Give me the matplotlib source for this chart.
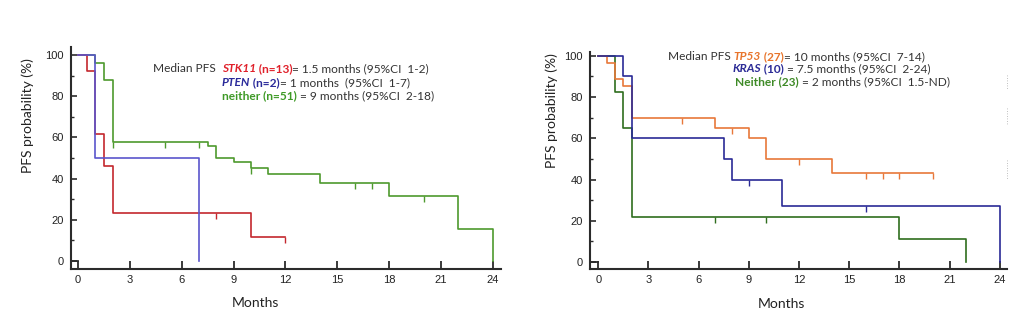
import matplotlib
matplotlib.use("Agg")
import matplotlib.pyplot as plt
from matplotlib.ticker import MultipleLocator

# ---------------- data ----------------
# Left panel
stk11_t = [0, 0.5, 1, 1.5, 2, 10, 12]
stk11_s = [100, 92.3, 61.5, 46.2, 23.1, 11.5, 11.5]
stk11_cens_t = [8, 12]
stk11_cens_s = [23.1, 11.5]

pten_t = [0, 1, 7]
pten_s = [100, 50, 0]

neither_t = [0, 1, 1.5, 2, 7.5, 8, 9, 10, 11, 14, 18, 22, 24]
neither_s = [100, 96, 88, 58, 56, 50, 48, 45, 42, 38, 31.5, 15.5, 0]
neither_cens_t = [2, 5, 7, 10, 16, 17, 20]
neither_cens_s = [58, 58, 58, 45, 38, 38, 31.5]

# Right panel
tp53_t = [0, 0.5, 1, 1.5, 2, 7, 9, 10, 14, 20]
tp53_s = [100, 96.3, 88.9, 85.2, 70, 65, 60, 50, 43, 43]
tp53_cens_t = [5, 8, 12, 16, 17, 18, 20]
tp53_cens_s = [70, 65, 50, 43, 43, 43, 43]

kras_t = [0, 1.5, 2, 7.5, 8, 11, 24]
kras_s = [100, 90, 60, 50, 40, 27, 0]
kras_cens_t = [9, 16]
kras_cens_s = [40, 27]

neither2_t = [0, 1, 1.5, 2, 18, 22]
neither2_s = [100, 82.6, 65.2, 21.7, 11, 0]
neither2_cens_t = [7, 10]
neither2_cens_s = [21.7, 21.7]

x_ticks = [0, 3, 6, 9, 12, 15, 18, 21, 24]
y_ticks = [0, 20, 40, 60, 80, 100]

# ---------------- style ----------------
TXT = ["Lato", "DejaVu Sans"]
TICKF = ["Liberation Sans", "DejaVu Sans"]
AX = "#2b2b2b"

fig = plt.figure(figsize=(10.27, 3.22), dpi=100)
W, H = 1027, 322


def px_axes(x0, x1, ytop, ybot):
    return fig.add_axes([x0 / W, 1 - ybot / H, (x1 - x0) / W, (ybot - ytop) / H])


def style(ax, xlim, ylim):
    ax.set_xlim(*xlim)
    ax.set_ylim(*ylim)
    for s in ["top", "right"]:
        ax.spines[s].set_visible(False)
    for s in ["left", "bottom"]:
        ax.spines[s].set_linewidth(1.5)
        ax.spines[s].set_color(AX)
    ax.set_xticks(x_ticks)
    ax.set_yticks(y_ticks)
    ax.yaxis.set_minor_locator(MultipleLocator(10))
    ax.tick_params(axis="x", direction="in", length=6, width=1.3, color=AX, pad=4,
                   labelsize=8)
    ax.tick_params(axis="y", which="major", direction="in", length=4, width=1.2, color=AX,
                   pad=5, labelsize=8)
    ax.tick_params(axis="y", which="minor", direction="in", length=2.5, width=1.0, color=AX)
    for lab in ax.get_xticklabels() + ax.get_yticklabels():
        lab.set_family(TICKF)
        lab.set_color("#222222")
    # small box at origin
    ax.plot([xlim[0], 0], [0, 0], color=AX, lw=1.3, clip_on=False)
    ax.set_ylabel("PFS probability (%)", family=TXT, fontsize=10, color="#222222")
    ax.set_xlabel("Months", family=TXT, fontsize=10, color="#222222")


def km(ax, t, s, ct, cs, color):
    ax.step(t, s, where="post", color=color, lw=1.2, clip_on=False)
    ax.plot(ct, cs, ls="none", marker=3, ms=4, mew=1.0, color=color, clip_on=False)


r = fig.canvas.get_renderer()
fs = 8.6


def line(parts, x, y):
    """Draw consecutive text pieces starting at pixel x."""
    for txt, col, style_, weight in parts:
        t = fig.text(x / W, 1 - y / H, txt, family=TXT, fontsize=fs, color=col,
                     style=style_, weight=weight, va="center")
        bb = t.get_window_extent(renderer=r)
        x += bb.width


# ---------------- left panel ----------------
axL = px_axes(70.7, 500.7, 46.7, 269.3)
style(axL, (-0.43, 24.46), (-4.0, 104))
km(axL, neither_t, neither_s, neither_cens_t, neither_cens_s, "#4e9a2e")
km(axL, stk11_t, stk11_s, stk11_cens_t, stk11_cens_s, "#c4282e")
axL.step(pten_t, pten_s, where="post", color="#5a55cc", lw=1.2)
axL.yaxis.set_label_coords(-0.085, 0.69)
axL.xaxis.set_label_coords(0.4286, -0.125)

y1, y2, y3 = 68.3, 82.3, 95.7
line([("Median PFS  ", "#333333", "normal", "normal"),
      ("STK11", "#e0202a", "italic", "bold"),
      (" (n=13)", "#e0202a", "normal", "bold"),
      ("= 1.5 months (95%CI  1-2)", "#333333", "normal", "normal")], 153, y1)
line([("PTEN", "#2a2a9a", "italic", "bold"),
      (" (n=2)", "#2a2a9a", "normal", "bold"),
      ("= 1 months  (95%CI  1-7)", "#333333", "normal", "normal")], 221.7, y2)
line([("neither (n=51)", "#3e9a26", "normal", "bold"),
      (" = 9 months (95%CI  2-18)", "#333333", "normal", "normal")], 221.7, y3)

# ---------------- right panel ----------------
axR = px_axes(590, 1007.3, 51.7, 269.3)
style(axR, (-0.49, 24.45), (-3.5, 102))
km(axR, neither2_t, neither2_s, neither2_cens_t, neither2_cens_s, "#2f6e1e")
km(axR, tp53_t, tp53_s, tp53_cens_t, tp53_cens_s, "#e8783a")
km(axR, kras_t, kras_s, kras_cens_t, kras_cens_s, "#2a2a96")
axR.yaxis.set_label_coords(-0.077, 0.73)
axR.xaxis.set_label_coords(0.459, -0.13)

ry1, ry2, ry3 = 56.7, 69.0, 81.7
line([("Median PFS ", "#333333", "normal", "normal"),
      ("TP53", "#e8742a", "italic", "bold"),
      (" (27)", "#e8742a", "normal", "bold"),
      ("= 10 months (95%CI  7-14)", "#333333", "normal", "normal")], 668, ry1)
line([("KRAS", "#2a2a96", "italic", "bold"),
      (" (10)", "#2a2a96", "normal", "bold"),
      (" = 7.5 months (95%CI  2-24)", "#333333", "normal", "normal")], 732.7, ry2)
line([("Neither (23)", "#3e8a26", "normal", "bold"),
      (" = 2 months (95%CI  1.5-ND)", "#333333", "normal", "normal")], 735, ry3)

# faint dotted artifact at far right
for ya, yb in [(75, 90), (108, 125), (160, 180)]:
    fig.add_artist(plt.Line2D([1006.7 / W] * 2, [1 - ya / H, 1 - yb / H],
                              color="#aaaaaa", lw=0.6, ls=(0, (1, 2))))

fig.savefig("out.png", dpi=100)
